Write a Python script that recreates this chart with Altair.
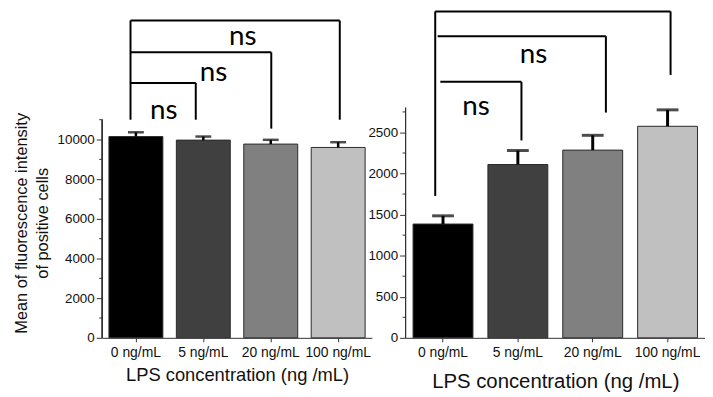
import altair as alt
import pandas as pd

categories = ["0 ng/mL", "5 ng/mL", "20 ng/mL", "100 ng/mL"]
bar_colors = ["#000000", "#404040", "#808080", "#c0c0c0"]

left_means = [10150, 9970, 9770, 9600]
left_err = [215, 180, 215, 265]
right_means = [1385, 2110, 2285, 2575]
right_err = [100, 170, 180, 200]

left_major = [0, 2000, 4000, 6000, 8000, 10000]
left_minor = [1000, 3000, 5000, 7000, 9000, 11000]
right_major = [0, 500, 1000, 1500, 2000, 2500]
right_minor = [250, 750, 1250, 1750, 2250, 2750]

# brackets: (from, to, level, left leg bottom, right leg bottom)
left_brackets = [
    (categories[0], categories[3], 16000, 11000, 11000),
    (categories[0], categories[2], 14400, 14400, 10550),
    (categories[0], categories[1], 12850, 12850, 11000),
]
left_labels = [(categories[2], 14750), (categories[1], 12950), (categories[0], 11050)]
right_brackets = [
    (categories[0], categories[3], 3973, 1727, 3200),
    (categories[0], categories[2], 3671, 3671, 2742),
    (categories[0], categories[1], 3116, 3116, 2403),
]
right_labels = [(categories[1], 3345), (categories[0], 2717)]

AXC = "#333333"
TXT = "#111111"
NS_FONT = "Lato"


def panel(means, errs, major, minor, ymax, axis_top, brackets, b_pos, labels, l_pos,
          width, height, ytitle, xtitle_size, xtitle_pad, cap, lw):
    df = pd.DataFrame({"cat": categories, "mean": means,
                       "upper": [m + e for m, e in zip(means, errs)]})
    xs = alt.Scale(domain=categories, paddingInner=0.2, paddingOuter=0.1)
    ys = alt.Scale(domain=[0, ymax], nice=False, zero=True)
    yaxis = alt.Axis(values=major, format="d", tickSize=6, domain=False, grid=False,
                     tickColor=AXC, labelFont="Liberation Sans", labelFontSize=13.5,
                     labelColor=TXT, labelPadding=2, title=ytitle,
                     titleFont="Liberation Sans", titleFontSize=16.5,
                     titleFontWeight="normal", titleColor=TXT, titleLineHeight=21,
                     titlePadding=7)
    xaxis = alt.Axis(domainColor=AXC, tickColor=AXC, tickSize=4, labelAngle=0,
                     labelFont="Liberation Sans", labelFontSize=14, labelColor=TXT,
                     labelPadding=4, title="LPS concentration (ng /mL)",
                     titleFont="Liberation Sans", titleFontSize=xtitle_size,
                     titleFontWeight="normal", titleColor=TXT, titlePadding=xtitle_pad)
    bars = alt.Chart(df).mark_bar(stroke="#2a2a2a", strokeWidth=1).encode(
        x=alt.X("cat:N", scale=xs, axis=xaxis, sort=categories),
        y=alt.Y("mean:Q", scale=ys, axis=yaxis),
        color=alt.Color("cat:N", scale=alt.Scale(domain=categories, range=bar_colors),
                        legend=None),
    )
    err = alt.Chart(df).mark_rule(color="black", strokeWidth=lw).encode(
        x=alt.X("cat:N", sort=categories), y="mean:Q", y2="upper:Q")
    caps = alt.Chart(df).mark_tick(color="black", thickness=lw, size=cap).encode(
        x=alt.X("cat:N", sort=categories), y="upper:Q")
    yline = alt.Chart(df).mark_rule(color=AXC, strokeWidth=1).encode(
        x=alt.value(0), y=alt.datum(0), y2=alt.datum(axis_top))
    mdf = pd.DataFrame({"v": minor})
    mticks = alt.Chart(mdf).mark_rule(color=AXC, strokeWidth=1).encode(
        x=alt.value(-3), x2=alt.value(0), y="v:Q")
    layers = [bars, err, caps, yline, mticks]
    for (a, b, lvl, lb, rb), (pa, pb) in zip(brackets, b_pos):
        bdf = pd.DataFrame({"a": [a], "b": [b], "lvl": [lvl], "lb": [lb], "rb": [rb]})
        base = alt.Chart(bdf)
        layers.append(base.mark_rule(color="black", strokeWidth=2).encode(
            x=alt.X("a:N", bandPosition=pa), x2=alt.X2("b", bandPosition=pb),
            y="lvl:Q"))
        if lb != lvl:
            layers.append(base.mark_rule(color="black", strokeWidth=2).encode(
                x=alt.X("a:N", bandPosition=pa), y="lvl:Q", y2="lb:Q"))
        layers.append(base.mark_rule(color="black", strokeWidth=2).encode(
            x=alt.X("b:N", bandPosition=pb), y="lvl:Q", y2="rb:Q"))
    for (c, yv), (p, dx) in zip(labels, l_pos):
        tdf = pd.DataFrame({"c": [c], "y": [yv], "t": ["ns"]})
        layers.append(alt.Chart(tdf).mark_text(
            font=NS_FONT, fontSize=28, align="center", baseline="alphabetic",
            color="black", dx=dx).encode(
            x=alt.X("c:N", bandPosition=p), y="y:Q", text="t:N"))
    return alt.layer(*layers).properties(width=width, height=height)


left = panel(left_means, left_err, left_major, left_minor, 11600, 11000,
             left_brackets, [(0.4, 0.53), (0.4, 0.51), (0.4, 0.36)],
             left_labels, [(0.0, -1), (0.69, 0), (1.0, 1)],
             272, 232, ["Mean of fluorescence intensity", "of positive cells"],
             18.5, 6, 16, 2.5)
right = panel(right_means, right_err, right_major, right_minor, 2800, 2800,
              right_brackets, [(0.37, 0.55), (0.41, 0.72), (0.455, 0.56)],
              right_labels, [(0.76, 0), (1.0, 3)],
              302, 232, None, 20.5, 12, 22, 3)

chart = alt.hconcat(left, right, spacing=34, bounds="flush").properties(
    padding={"left": 5, "top": 0, "right": 0, "bottom": 0}
).configure_view(stroke=None).configure_axis(labelFontWeight="normal")

chart.save("out.html", embed_options={"renderer": "svg", "actions": False})
